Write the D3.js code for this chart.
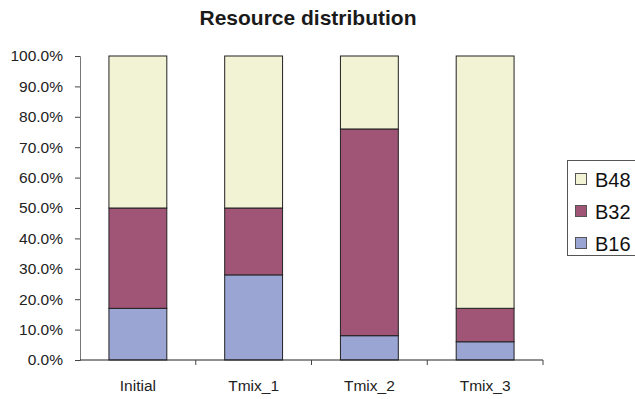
<!DOCTYPE html>
<html>
<head>
<meta charset="utf-8">
<script src="https://cdn.jsdelivr.net/npm/d3@7"></script>
<style>
  html, body { margin: 0; padding: 0; background: #fff; }
  svg { display: block; font-family: "Liberation Sans", Arial, sans-serif; }
</style>
</head>
<body>
<svg id="chart" width="635" height="399"></svg>
<script>
// Share of each resource type per configuration (percent)
const categories = ["Initial", "Tmix_1", "Tmix_2", "Tmix_3"];
const seriesNames = ["B16", "B32", "B48"];
const b16 = [17, 28, 8, 6];
const b32 = [33, 22, 68, 11];
const b48 = [50, 50, 24, 83];
const seriesColors = ["#9aa5d3", "#a05577", "#f2f2d4"];
const yTicks = [0, 10, 20, 30, 40, 50, 60, 70, 80, 90, 100];

const rows = categories.map((c, i) => ({ cat: c, B16: b16[i], B32: b32[i], B48: b48[i] }));
const stacked = d3.stack().keys(seriesNames)(rows);

const svg = d3.select("#chart");
const plotLeft = 80, plotRight = 543, plotTop = 56, plotBottom = 360;

const x = d3.scaleBand().domain(categories).range([plotLeft, plotRight]).paddingInner(0.5).paddingOuter(0.25);
const y = d3.scaleLinear().domain([0, 100]).range([plotBottom, plotTop]);
const color = d3.scaleOrdinal().domain(seriesNames).range(seriesColors);

// Title
svg.append("text")
  .attr("x", 308).attr("y", 25)
  .attr("text-anchor", "middle")
  .attr("font-size", 21).attr("font-weight", "bold")
  .attr("fill", "#1a1a1a")
  .text("Resource distribution");

// Stacked bars
svg.append("g").selectAll("g")
  .data(stacked).join("g")
  .attr("fill", d => color(d.key))
  .selectAll("rect")
  .data(d => d).join("rect")
  .attr("x", d => x(d.data.cat))
  .attr("y", d => y(d[1]))
  .attr("width", x.bandwidth())
  .attr("height", d => y(d[0]) - y(d[1]))
  .attr("stroke", "#222")
  .attr("stroke-width", 1);

// Y axis
const yAxis = svg.append("g")
  .attr("transform", `translate(${plotLeft},0)`)
  .call(d3.axisLeft(y).tickValues(yTicks).tickSize(5).tickPadding(12)
    .tickFormat(d => d3.format(".1f")(d) + "%"));
yAxis.select(".domain").attr("stroke", "#777");
yAxis.selectAll(".tick line").attr("stroke", "#444");
yAxis.selectAll("text").attr("font-size", 15.5).attr("fill", "#222")
  .attr("font-family", "Liberation Sans, Arial, sans-serif");

// X axis with ticks at category boundaries
const xAxis = svg.append("g").attr("transform", `translate(0,${plotBottom})`);
xAxis.append("line").attr("x1", plotLeft).attr("x2", plotRight).attr("stroke", "#222");
const step = (plotRight - plotLeft) / categories.length;
xAxis.selectAll("line.tk")
  .data(d3.range(1, categories.length + 1)).join("line")
  .attr("class", "tk")
  .attr("x1", i => plotLeft + i * step).attr("x2", i => plotLeft + i * step)
  .attr("y1", 0).attr("y2", 5)
  .attr("stroke", "#444");
xAxis.selectAll("text")
  .data(categories).join("text")
  .attr("x", d => x(d) + x.bandwidth() / 2)
  .attr("y", 31)
  .attr("text-anchor", "middle")
  .attr("font-size", 15.5).attr("fill", "#222")
  .text(d => d);

// Legend (drawn top to bottom in reverse stack order)
const legend = svg.append("g");
legend.append("rect")
  .attr("x", 567.5).attr("y", 160.5).attr("width", 80).attr("height", 95)
  .attr("fill", "#fff").attr("stroke", "#555");
const legendItems = seriesNames.slice().reverse();
const li = legend.selectAll("g.item").data(legendItems).join("g")
  .attr("class", "item")
  .attr("transform", (d, i) => `translate(575,${179 + i * 32})`);
li.append("rect")
  .attr("x", 0.5).attr("y", -5.5).attr("width", 11).attr("height", 11)
  .attr("fill", d => color(d)).attr("stroke", "#555");
li.append("text")
  .attr("x", 20).attr("y", 8)
  .attr("font-size", 20).attr("fill", "#111")
  .text(d => d);
</script>
</body>
</html>
